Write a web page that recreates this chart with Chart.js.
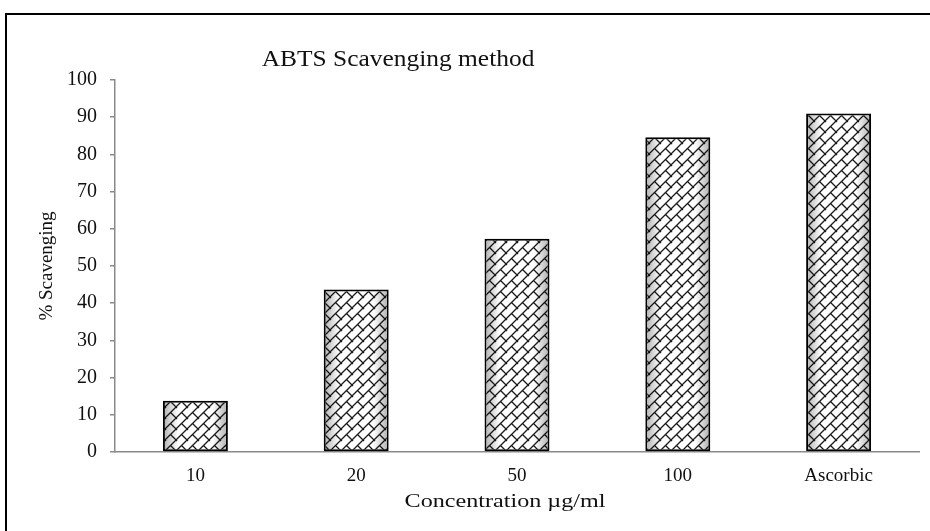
<!DOCTYPE html>
<html>
<head>
<meta charset="utf-8">
<script src="https://cdn.jsdelivr.net/npm/chart.js@4.4.1/dist/chart.umd.min.js"></script>
<style>
  html, body { margin: 0; padding: 0; background: #fff; }
  #wrap { width: 930px; height: 531px; position: relative; }
</style>
</head>
<body>
<div id="wrap"><canvas id="abtsChart" width="930" height="531"></canvas></div>
<script>
// data
const categories = ['10', '20', '50', '100', 'Ascorbic'];
const scavenging = [13.8, 43.7, 57.3, 84.6, 91.0];
const yTicks = [0, 10, 20, 30, 40, 50, 60, 70, 80, 90, 100];

const chartTitle = 'ABTS Scavenging method';
const xTitle = 'Concentration \u00b5g/ml';
const yTitle = '% Scavenging';

const serif = '"Liberation Serif", "DejaVu Serif", serif';

// diagonal brick hatch, like the office fill
function makeBrickPattern() {
    const s = 11;
    const h = s / 2;
    const tile = document.createElement('canvas');
    tile.width = s;
    tile.height = s;
    const c = tile.getContext('2d');
    c.fillStyle = '#ffffff';
    c.fillRect(0, 0, s, s);
    c.strokeStyle = '#1a1a1a';
    c.lineWidth = 1.3;
    c.beginPath();
    // "/" rows of the bricks
    c.moveTo(-2, s + 2); c.lineTo(s + 2, -2);
    c.moveTo(-2, 2); c.lineTo(2, -2);
    c.moveTo(s - 2, s + 2); c.lineTo(s + 2, s - 2);
    // "\" brick ends
    c.moveTo(h, h); c.lineTo(s + 1, s + 1);
    c.moveTo(-1, -1); c.lineTo(1, 1);
    c.stroke();
    return c.createPattern(tile, 'repeat');
}

const ctx = document.getElementById('abtsChart').getContext('2d');

const framePlugin = {
    id: 'frame',
    beforeDraw(chart) {
        const c = chart.ctx;
        c.save();
        c.strokeStyle = '#000';
        c.lineWidth = 2;
        c.strokeRect(6, 14, 1000, 1000);
        c.restore();
    },
    afterDatasetsDraw(chart) {
        // soft grey shading at the bar edges
        const c = chart.ctx;
        const meta = chart.getDatasetMeta(0);
        c.save();
        meta.data.forEach(bar => {
            const left = bar.x - bar.width / 2 + 2;
            const right = bar.x + bar.width / 2 - 2;
            const g = c.createLinearGradient(left, 0, right, 0);
            g.addColorStop(0, 'rgba(0,0,0,0.28)');
            g.addColorStop(0.22, 'rgba(0,0,0,0)');
            g.addColorStop(0.78, 'rgba(0,0,0,0)');
            g.addColorStop(1, 'rgba(0,0,0,0.28)');
            c.fillStyle = g;
            c.fillRect(left, bar.y + 2, right - left, bar.base - bar.y - 2);
        });
        c.restore();
    },
    afterDraw(chart) {
        const c = chart.ctx;
        c.save();
        c.fillStyle = '#111';
        c.textAlign = 'center';
        c.textBaseline = 'alphabetic';
        // title
        c.font = '24px ' + serif;
        c.save();
        c.translate(398, 66);
        c.scale(1.06, 1);
        c.fillText(chartTitle, 0, 0);
        c.restore();
        // x axis title, drawn a bit wide like the original
        c.font = '19px ' + serif;
        c.save();
        c.translate(505, 507);
        c.scale(1.27, 1);
        c.fillText(xTitle, 0, 0);
        c.restore();
        c.restore();
    }
};

new Chart(ctx, {
    type: 'bar',
    data: {
        labels: categories,
        datasets: [{
            data: scavenging,
            backgroundColor: makeBrickPattern(),
            borderColor: '#000',
            borderWidth: 2,
            borderSkipped: false,
            categoryPercentage: 1.0,
            barPercentage: 0.404
        }]
    },
    options: {
        responsive: false,
        animation: false,
        devicePixelRatio: 1,
        layout: { padding: { top: 80, right: 11, left: 0, bottom: 0 } },
        plugins: {
            legend: { display: false },
            title: { display: false },
            tooltip: { enabled: false }
        },
        scales: {
            x: {
                grid: { display: true, drawOnChartArea: false, drawTicks: false },
                border: { display: true, color: '#8a8a8a', width: 1.5 },
                ticks: {
                    color: '#111',
                    padding: 13,
                    font: { family: serif, size: 19 }
                },
                afterFit(scale) { scale.height = 79; }
            },
            y: {
                min: 0,
                max: 100,
                afterBuildTicks(scale) {
                    scale.ticks = yTicks.map(v => ({ value: v }));
                },
                grid: {
                    display: true,
                    drawOnChartArea: false,
                    drawTicks: true,
                    tickLength: 5,
                    color: '#8a8a8a',
                    lineWidth: 1.5
                },
                border: { display: true, color: '#8a8a8a', width: 1.5 },
                ticks: {
                    color: '#111',
                    padding: 13,
                    font: { family: serif, size: 20 }
                },
                title: {
                    display: true,
                    text: yTitle,
                    color: '#111',
                    padding: { top: 36, bottom: 0 },
                    font: { family: serif, size: 19 }
                },
                afterFit(scale) { scale.width = 115; }
            }
        }
    },
    plugins: [framePlugin]
});
</script>
</body>
</html>
